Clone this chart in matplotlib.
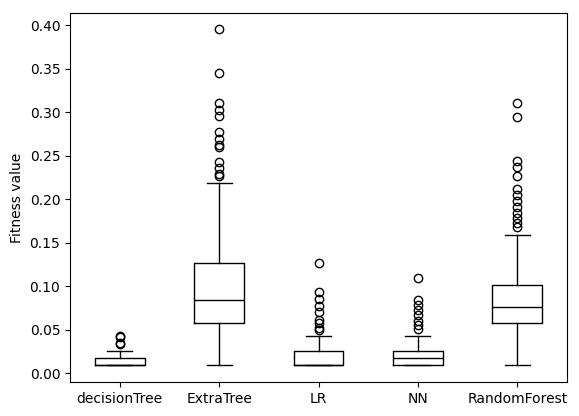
import matplotlib
matplotlib.use("Agg")
import matplotlib.pyplot as plt

categories = ["decisionTree", "ExtraTree", "LR", "NN", "RandomForest"]
q1 = [0.009, 0.058, 0.009, 0.009, 0.058]
median = [0.009, 0.084, 0.009, 0.017, 0.0755]
q3 = [0.017, 0.126, 0.025, 0.025, 0.101]
whislo = [0.009, 0.009, 0.009, 0.009, 0.009]
whishi = [0.025, 0.218, 0.043, 0.043, 0.159]
fliers_dt = [0.033, 0.034, 0.041, 0.043]
fliers_et = [0.395, 0.345, 0.310, 0.302, 0.295, 0.277, 0.269, 0.262, 0.260,
             0.243, 0.236, 0.229, 0.226]
fliers_lr = [0.126, 0.093, 0.085, 0.077, 0.070, 0.061, 0.058, 0.052, 0.050]
fliers_nn = [0.109, 0.084, 0.078, 0.072, 0.067, 0.060, 0.055, 0.051]
fliers_rf = [0.310, 0.294, 0.244, 0.237, 0.227, 0.211, 0.205, 0.198, 0.191,
             0.184, 0.178, 0.172, 0.168]
fliers = [fliers_dt, fliers_et, fliers_lr, fliers_nn, fliers_rf]

stats = []
for i, name in enumerate(categories):
    stats.append(dict(label=name, q1=q1[i], med=median[i], q3=q3[i],
                      whislo=whislo[i], whishi=whishi[i], fliers=fliers[i]))

fig = plt.figure(figsize=(5.79, 4.16), dpi=100)
ax = fig.add_axes([70 / 579, 34 / 416, 497 / 579, 369 / 416])

black = dict(color="black", linewidth=1.0)
ax.bxp(stats, widths=0.5,
       boxprops=black, whiskerprops=black, capprops=black,
       medianprops=black,
       flierprops=dict(marker="o", markerfacecolor="none",
                       markeredgecolor="black", markersize=6))
ax.set_ylabel("Fitness value")
ax.set_ylim(-0.0103, 0.4138)
ax.set_yticks([0.0, 0.05, 0.10, 0.15, 0.20, 0.25, 0.30, 0.35, 0.40])
ax.set_yticklabels(["0.00", "0.05", "0.10", "0.15", "0.20", "0.25", "0.30", "0.35", "0.40"])

fig.savefig("out.png", dpi=100)
